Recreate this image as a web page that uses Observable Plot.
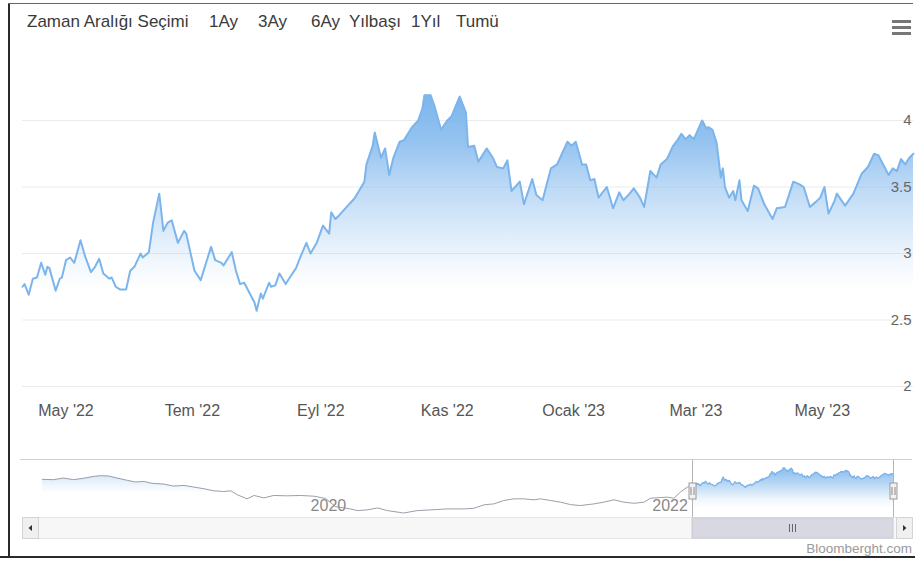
<!DOCTYPE html>
<html>
<head>
<meta charset="utf-8">
<script src="https://cdn.jsdelivr.net/npm/d3@7"></script>
<script src="https://cdn.jsdelivr.net/npm/@observablehq/plot@0.6"></script>
<style>
  body { margin: 0; background: #fff; }
  #wrap { position: relative; width: 915px; height: 562px; overflow: hidden; background: #fff;
          font-family: "Liberation Sans", Arial, sans-serif; }
  .rs { position: absolute; top: 12px; font-size: 17px; line-height: 20px; color: #3a3a3a; white-space: nowrap; }
  .bar { position: absolute; left: 892px; width: 19px; height: 3px; background: #777; }
  #main { position: absolute; left: 0; top: 40px; }
  #nav { position: absolute; left: 0; top: 445px; }
  #credit { position: absolute; right: 3px; top: 541px; font-size: 13.5px; color: #9a9a9a; }
  .edge { position: absolute; background: #2a2a2a; }
</style>
</head>
<body>
<div id="wrap">
  <div class="edge" style="left:8px;top:4px;width:2px;height:554px"></div>
  <div class="edge" style="left:8px;top:3px;width:905px;height:1px;background:#666"></div>
  <div class="edge" style="left:0;top:556px;width:915px;height:2px"></div>
  <div id="rangesel"></div>
  <div class="bar" style="top:20px"></div>
  <div class="bar" style="top:26px"></div>
  <div class="bar" style="top:32px"></div>
  <div id="main"></div>
  <div id="nav"></div>
  <div id="credit">Bloomberght.com</div>
</div>
<script>
// ---------- DATA ----------
const rangeLabels = ["Zaman Aralığı Seçimi", "1Ay", "3Ay", "6Ay", "Yılbaşı", "1Yıl", "Tumü"];

const mainDates = [
  "2022-04-10","2022-04-11","2022-04-13","2022-04-15","2022-04-17","2022-04-19","2022-04-21","2022-04-22","2022-04-23","2022-04-26",
  "2022-04-28","2022-04-29","2022-05-01","2022-05-03","2022-05-05","2022-05-08","2022-05-10","2022-05-13","2022-05-15","2022-05-17",
  "2022-05-19","2022-05-22","2022-05-23","2022-05-25","2022-05-27","2022-05-30","2022-06-01","2022-06-03","2022-06-06","2022-06-07",
  "2022-06-10","2022-06-12","2022-06-15","2022-06-17","2022-06-19","2022-06-21","2022-06-24","2022-06-27","2022-06-28","2022-07-02",
  "2022-07-05","2022-07-10","2022-07-12","2022-07-15","2022-07-16","2022-07-20","2022-07-22","2022-07-24","2022-07-26","2022-07-28",
  "2022-07-31","2022-08-01","2022-08-03","2022-08-04","2022-08-07","2022-08-08","2022-08-10","2022-08-12","2022-08-15","2022-08-17",
  "2022-08-20","2022-08-22","2022-08-25","2022-08-27","2022-08-30","2022-09-02","2022-09-05","2022-09-06","2022-09-08","2022-09-10",
  "2022-09-14","2022-09-17","2022-09-19","2022-09-22","2022-09-23","2022-09-26","2022-09-27","2022-09-30","2022-10-02","2022-10-04",
  "2022-10-06","2022-10-09","2022-10-11","2022-10-13","2022-10-15","2022-10-18","2022-10-20","2022-10-21","2022-10-24","2022-10-26",
  "2022-10-29","2022-11-01","2022-11-03","2022-11-07","2022-11-10","2022-11-11","2022-11-14","2022-11-16","2022-11-20","2022-11-23",
  "2022-11-25","2022-11-28","2022-11-30","2022-12-02","2022-12-06","2022-12-08","2022-12-12","2022-12-14","2022-12-17","2022-12-21",
  "2022-12-24","2022-12-29","2022-12-31","2023-01-02","2023-01-05","2023-01-07","2023-01-09","2023-01-11","2023-01-13","2023-01-17",
  "2023-01-20","2023-01-23","2023-01-25","2023-01-28","2023-01-30","2023-02-02","2023-02-04","2023-02-07","2023-02-10","2023-02-12",
  "2023-02-15","2023-02-18","2023-02-20","2023-02-22","2023-02-24","2023-02-26","2023-02-28","2023-03-02","2023-03-04","2023-03-06",
  "2023-03-07","2023-03-09","2023-03-11","2023-03-13","2023-03-14","2023-03-15","2023-03-17","2023-03-19","2023-03-20","2023-03-22",
  "2023-03-23","2023-03-26","2023-03-29","2023-03-31","2023-04-03","2023-04-07","2023-04-09","2023-04-13","2023-04-17","2023-04-20",
  "2023-04-22","2023-04-25","2023-04-28","2023-04-30","2023-05-02","2023-05-04","2023-05-07","2023-05-08","2023-05-12","2023-05-16",
  "2023-05-20","2023-05-23","2023-05-26","2023-05-28","2023-05-31","2023-06-02","2023-06-04","2023-06-06","2023-06-08","2023-06-10",
  "2023-06-12","2023-06-14"
];
const mainValues = [
  2.75,2.77,2.69,2.81,2.82,2.93,2.84,2.90,2.89,2.72,
  2.81,2.82,2.95,2.97,2.93,3.10,2.99,2.86,2.90,2.96,
  2.85,2.81,2.82,2.75,2.73,2.73,2.87,2.90,3.00,2.97,
  3.01,3.23,3.45,3.17,3.23,3.25,3.08,3.17,3.15,2.87,
  2.80,3.05,2.95,2.93,2.91,3.01,2.87,2.77,2.78,2.72,
  2.63,2.57,2.70,2.66,2.78,2.75,2.76,2.85,2.77,2.82,
  2.89,2.97,3.08,3.00,3.08,3.21,3.15,3.31,3.26,3.29,
  3.36,3.41,3.46,3.54,3.67,3.81,3.91,3.72,3.79,3.59,
  3.72,3.84,3.85,3.90,3.95,4.00,4.09,4.19,4.19,4.10,
  3.93,4.00,4.03,4.18,4.06,3.80,3.81,3.69,3.79,3.72,
  3.65,3.64,3.70,3.47,3.54,3.37,3.56,3.44,3.40,3.64,
  3.67,3.84,3.81,3.84,3.67,3.67,3.55,3.56,3.42,3.50,
  3.34,3.46,3.40,3.45,3.49,3.42,3.35,3.62,3.57,3.67,
  3.71,3.81,3.85,3.90,3.86,3.89,3.86,3.93,4.00,3.94,
  3.95,3.93,3.83,3.57,3.64,3.50,3.42,3.47,3.40,3.55,
  3.40,3.32,3.51,3.49,3.37,3.26,3.34,3.35,3.54,3.52,
  3.50,3.35,3.39,3.42,3.50,3.30,3.40,3.45,3.36,3.45,
  3.60,3.65,3.75,3.74,3.65,3.59,3.64,3.62,3.71,3.67,
  3.72,3.75
];

const yTickValues = [2, 2.5, 3, 3.5, 4];
const yTickLabels = ["2", "2.5", "3", "3.5", "4"];
const xTickDates = ["2022-05-01","2022-07-01","2022-09-01","2022-11-01","2023-01-01","2023-03-01","2023-05-01"];
const xTickLabels = ["May '22","Tem '22","Eyl '22","Kas '22","Ocak '23","Mar '23","May '23"];

// navigator history (before the selected window)
const navDates = [
  "2018-06-19","2018-07-13","2018-08-03","2018-08-25","2018-09-15","2018-10-07","2018-10-22","2018-11-08","2018-11-26","2018-12-18",
  "2019-01-04","2019-01-22","2019-02-09","2019-03-06","2019-03-27","2019-04-18","2019-05-09","2019-05-31","2019-06-21","2019-07-12",
  "2019-07-27","2019-08-10","2019-08-31","2019-09-15","2019-10-06","2019-10-27","2019-11-25","2019-12-23","2020-01-21","2020-02-15",
  "2020-03-07","2020-04-08","2020-04-23","2020-05-14","2020-06-05","2020-06-26","2020-07-31","2020-08-29","2020-09-27","2020-11-01",
  "2020-12-07","2020-12-28","2021-01-19","2021-02-09","2021-03-02","2021-03-24","2021-04-14","2021-05-06","2021-05-20","2021-06-10",
  "2021-07-02","2021-07-23","2021-08-13","2021-09-11","2021-10-02","2021-10-24","2021-11-14","2021-12-06","2021-12-27","2022-01-10",
  "2022-02-01","2022-02-15","2022-03-01","2022-03-15","2022-03-30"
];
const navValues = [
  3.25,3.23,3.36,3.23,3.34,3.50,3.56,3.53,3.36,3.17,
  3.03,3.08,2.92,2.86,2.69,2.75,2.61,2.47,2.30,2.24,
  2.30,1.97,1.63,1.91,1.71,1.91,1.88,1.91,1.85,1.66,
  0.98,0.79,0.65,0.71,0.87,0.65,0.45,0.65,0.71,0.79,
  0.79,0.84,1.13,1.21,1.49,1.63,1.63,1.55,1.63,1.49,
  1.35,1.15,1.07,1.21,1.35,1.55,1.35,1.26,1.35,1.68,
  1.74,1.77,1.68,2.19,2.61
];
const navTickDates = ["2020-01-01", "2022-01-01"];
const navTickLabels = ["2020", "2022"];
const navStart = "2018-06-15";
const selStart = "2022-04-10";
const selEnd = "2023-06-14";

// ---------- BUILD ----------
const parse = d3.utcParse("%Y-%m-%d");
const main = mainDates.map((d, i) => ({date: parse(d), value: mainValues[i]}));
const navHist = navDates.map((d, i) => ({date: parse(d), value: navValues[i]}));
const navAll = navHist.concat(main);
const xLabelMap = new Map(xTickDates.map((d, i) => [+parse(d), xTickLabels[i]]));

// range selector (HTML)
const rsLeft = [27, 209, 258, 311, 349, 411, 456];
const rs = document.getElementById("rangesel");
rangeLabels.forEach((t, i) => {
  const s = document.createElement("div");
  s.className = "rs"; s.style.left = rsLeft[i] + "px"; s.textContent = t;
  rs.appendChild(s);
});

const BLUE = "#7cb5ec";
function gradient(id, stops) {
  return () => {
    const g = d3.create("svg:g");
    const lg = g.append("defs").append("linearGradient").attr("id", id)
      .attr("x1", 0).attr("y1", 0).attr("x2", 0).attr("y2", 1);
    stops.forEach(([o, a]) => lg.append("stop").attr("offset", o).attr("stop-color", BLUE).attr("stop-opacity", a));
    return g.node();
  };
}

const font = '"Liberation Sans", Arial, sans-serif';

const mainChart = Plot.plot({
  width: 915, height: 400,
  marginLeft: 22, marginRight: 2, marginTop: 13.5, marginBottom: 54,
  x: {type: "utc", domain: [parse(selStart), parse(selEnd)]},
  y: {domain: [2, 4.5], axis: null},
  style: {fontFamily: font, fontSize: "16px", color: "#555", background: "transparent", overflow: "visible"},
  marks: [
    gradient("mainGrad", [[0, 1], [0.156, 0.82], [0.314, 0.51], [0.465, 0.27], [0.585, 0.09], [0.67, 0], [1, 0]]),
    Plot.ruleY(yTickValues, {stroke: "#ebebeb", strokeWidth: 1}),
    Plot.areaY(main, {x: "date", y1: 2, y2: "value", fill: "url(#mainGrad)"}),
    Plot.line(main, {x: "date", y: "value", stroke: BLUE, strokeWidth: 2}),
    Plot.text(yTickValues, {y: d => d, text: (d, i) => yTickLabels[i], frameAnchor: "right",
      textAnchor: "end", dx: -2, fill: "#666", fontSize: 15}),
    Plot.axisX({ticks: xTickDates.map(parse), tickFormat: d => xLabelMap.get(+d), tickSize: 0,
      tickPadding: 18, fontSize: 16})
  ]
});
document.getElementById("main").appendChild(mainChart);

function navChrome(index, scales, values, dim) {
  const x0 = scales.x(parse(selStart)), x1 = scales.x(parse(selEnd));
  const W = dim.width;
  const g = d3.create("svg:g");
  g.append("line").attr("x1", 20).attr("x2", W - 3).attr("y1", 14.5).attr("y2", 14.5).attr("stroke", "#d0d0d0");
  g.append("rect").attr("x", 22.5).attr("y", 72.5).attr("width", W - 26).attr("height", 21)
    .attr("fill", "#f7f7f7").attr("stroke", "#e4e4e4");
  g.append("rect").attr("x", x0).attr("y", 73).attr("width", x1 - x0).attr("height", 20)
    .attr("fill", "#d8d8e3").attr("stroke", "#cacad4");
  const cx = (x0 + x1) / 2;
  [-3, 0, 3].forEach(o => g.append("line").attr("x1", cx + o).attr("x2", cx + o).attr("y1", 79).attr("y2", 87)
    .attr("stroke", "#666").attr("stroke-width", 1));
  // buttons
  [[22.5, -1], [W - 18.5, 1]].forEach(([bx, dir]) => {
    g.append("rect").attr("x", bx).attr("y", 72.5).attr("width", 16).attr("height", 21)
      .attr("fill", "#f0f0f0").attr("stroke", "#d4d4d4");
    const mx = bx + 8, my = 83;
    g.append("path").attr("d", `M${mx + dir * 2},${my} L${mx - dir * 1.5},${my - 3} L${mx - dir * 1.5},${my + 3} Z`)
      .attr("fill", "#333");
  });
  return g.node();
}

function navHandles(index, scales, values, dim) {
  const g = d3.create("svg:g");
  [parse(selStart), parse(selEnd)].forEach(d => {
    const x = Math.round(scales.x(d)) + 0.5;
    g.append("line").attr("x1", x).attr("x2", x).attr("y1", 14.5).attr("y2", 72).attr("stroke", "#b4b4b4");
    g.append("rect").attr("x", x - 3.5).attr("y", 38).attr("width", 7).attr("height", 16)
      .attr("fill", "#f2f2f2").attr("stroke", "#999");
    [-1.5, 1.5].forEach(o => g.append("line").attr("x1", x + o).attr("x2", x + o).attr("y1", 42).attr("y2", 50)
      .attr("stroke", "#888"));
  });
  return g.node();
}

const navChart = Plot.plot({
  width: 915, height: 100,
  marginLeft: 40, marginRight: 22, marginTop: 22.5, marginBottom: 32.5,
  x: {type: "utc", domain: [parse(navStart), parse(selEnd)], axis: null},
  y: {domain: [0.45, 4.2], axis: null},
  style: {fontFamily: font, background: "transparent", overflow: "visible"},
  marks: [
    gradient("navGrad", [[0, 0.9], [0.35, 0.55], [0.7, 0.12], [0.9, 0], [1, 0]]),
    gradient("navGradFaint", [[0, 0.3], [0.3, 0.1], [0.5, 0], [1, 0]]),
    navChrome,
    Plot.areaY(navHist, {x: "date", y1: 0.45, y2: "value", fill: "url(#navGradFaint)"}),
    Plot.line(navAll, {x: "date", y: "value", stroke: "#9aa0aa", strokeWidth: 1}),
    Plot.text(navTickDates, {x: d => parse(d), text: (d, i) => navTickLabels[i], frameAnchor: "bottom",
      lineAnchor: "middle", textAnchor: "start", dx: 6, dy: -7.5, fill: "#8a8a8a", fontSize: 16}),
    Plot.areaY(main, {x: "date", y1: 0.45, y2: "value", fill: "url(#navGrad)"}),
    Plot.line(main, {x: "date", y: "value", stroke: BLUE, strokeWidth: 1.2}),
    navHandles
  ]
});
document.getElementById("nav").appendChild(navChart);
</script>
</body>
</html>
